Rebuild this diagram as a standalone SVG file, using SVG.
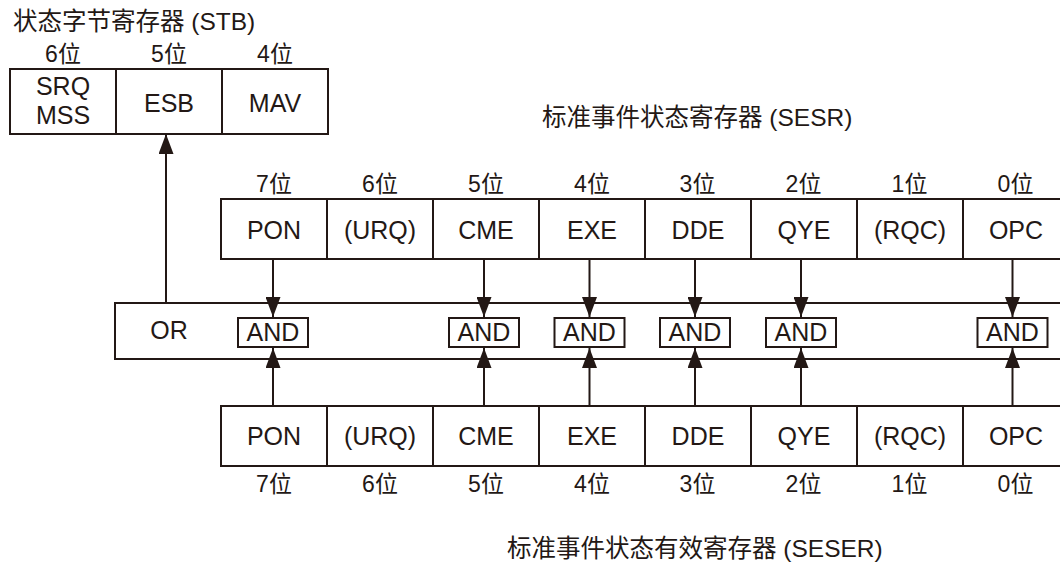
<svg xmlns="http://www.w3.org/2000/svg" width="1060" height="566" viewBox="0 0 1060 566">
<defs>
<style>
text{font-family:"Liberation Sans","Noto Sans CJK SC",sans-serif;fill:#231815;}
.t{font-size:24.5px;}
.c{font-size:25px;text-anchor:middle;}
.b{font-size:23px;text-anchor:middle;}
.box{fill:#fff;stroke:#231815;stroke-width:2;}
.ln{stroke:#231815;stroke-width:2;fill:none;}
.con{stroke:#231815;stroke-width:2;fill:none;}
</style>
<marker id="ah" viewBox="0 0 20 15" refX="20" refY="7.5" markerWidth="20" markerHeight="15" markerUnits="userSpaceOnUse" orient="auto">
<path d="M0,0 L20,7.5 L0,15 Z" fill="#231815"/>
</marker>
</defs>
<rect width="1060" height="566" fill="#fff"/>

<g id="stb">
<text class="t" x="13" y="30">状态字节寄存器 (STB)</text>
<text class="b" x="63" y="62">6位</text>
<text class="b" x="169" y="62">5位</text>
<text class="b" x="275" y="62">4位</text>
<rect class="box" x="10" y="69" width="318" height="65"/>
<line class="ln" x1="116" y1="69" x2="116" y2="134"/>
<line class="ln" x1="222" y1="69" x2="222" y2="134"/>
<text class="c" x="63" y="95">SRQ</text>
<text class="c" x="63" y="124">MSS</text>
<text class="c" x="169" y="112">ESB</text>
<text class="c" x="275" y="112">MAV</text>
</g>

<g id="sesr">
<text class="t" x="542" y="126">标准事件状态寄存器 (SESR)</text>
<text class="b" x="274" y="192">7位</text>
<text class="b" x="380" y="192">6位</text>
<text class="b" x="486" y="192">5位</text>
<text class="b" x="592" y="192">4位</text>
<text class="b" x="697.5" y="192">3位</text>
<text class="b" x="803.5" y="192">2位</text>
<text class="b" x="909.5" y="192">1位</text>
<text class="b" x="1015.5" y="192">0位</text>
<rect class="box" x="221" y="199" width="848" height="60"/>
<line class="ln" x1="327" y1="199" x2="327" y2="259"/>
<line class="ln" x1="433" y1="199" x2="433" y2="259"/>
<line class="ln" x1="539" y1="199" x2="539" y2="259"/>
<line class="ln" x1="645" y1="199" x2="645" y2="259"/>
<line class="ln" x1="751" y1="199" x2="751" y2="259"/>
<line class="ln" x1="857" y1="199" x2="857" y2="259"/>
<line class="ln" x1="963" y1="199" x2="963" y2="259"/>
<text class="c" x="274" y="239">PON</text>
<text class="c" x="380" y="239">(URQ)</text>
<text class="c" x="486" y="239">CME</text>
<text class="c" x="592" y="239">EXE</text>
<text class="c" x="698" y="239">DDE</text>
<text class="c" x="804" y="239">QYE</text>
<text class="c" x="910" y="239">(RQC)</text>
<text class="c" x="1016" y="239">OPC</text>
</g>

<g id="or">
<rect class="box" x="115" y="303" width="960" height="56"/>
<text class="c" x="169" y="339">OR</text>
</g>

<g id="and7"><rect class="box" x="238" y="318" width="70" height="29"/><text class="c" x="273" y="341">AND</text></g>
<g id="and5"><rect class="box" x="449" y="318" width="70" height="29"/><text class="c" x="484" y="341">AND</text></g>
<g id="and4"><rect class="box" x="554.5" y="318" width="70" height="29"/><text class="c" x="589.5" y="341">AND</text></g>
<g id="and3"><rect class="box" x="660" y="318" width="70" height="29"/><text class="c" x="695" y="341">AND</text></g>
<g id="and2"><rect class="box" x="766" y="318" width="70" height="29"/><text class="c" x="801" y="341">AND</text></g>
<g id="and0"><rect class="box" x="977.5" y="318" width="70" height="29"/><text class="c" x="1012.5" y="341">AND</text></g>

<g id="seser">
<rect class="box" x="221" y="406" width="848" height="60"/>
<line class="ln" x1="327" y1="406" x2="327" y2="466"/>
<line class="ln" x1="433" y1="406" x2="433" y2="466"/>
<line class="ln" x1="539" y1="406" x2="539" y2="466"/>
<line class="ln" x1="645" y1="406" x2="645" y2="466"/>
<line class="ln" x1="751" y1="406" x2="751" y2="466"/>
<line class="ln" x1="857" y1="406" x2="857" y2="466"/>
<line class="ln" x1="963" y1="406" x2="963" y2="466"/>
<text class="c" x="274" y="445">PON</text>
<text class="c" x="380" y="445">(URQ)</text>
<text class="c" x="486" y="445">CME</text>
<text class="c" x="592" y="445">EXE</text>
<text class="c" x="698" y="445">DDE</text>
<text class="c" x="804" y="445">QYE</text>
<text class="c" x="910" y="445">(RQC)</text>
<text class="c" x="1016" y="445">OPC</text>
<text class="b" x="274" y="492">7位</text>
<text class="b" x="380" y="492">6位</text>
<text class="b" x="486" y="492">5位</text>
<text class="b" x="592" y="492">4位</text>
<text class="b" x="697.5" y="492">3位</text>
<text class="b" x="803.5" y="492">2位</text>
<text class="b" x="909.5" y="492">1位</text>
<text class="b" x="1015.5" y="492">0位</text>
<text class="t" x="507" y="557">标准事件状态有效寄存器 (SESER)</text>
</g>

<g id="connectors">
<line class="con" x1="166" y1="303" x2="166" y2="134" marker-end="url(#ah)"/>
<line class="con" x1="273" y1="259" x2="273" y2="317" marker-end="url(#ah)"/>
<line class="con" x1="484" y1="259" x2="484" y2="317" marker-end="url(#ah)"/>
<line class="con" x1="589.5" y1="259" x2="589.5" y2="317" marker-end="url(#ah)"/>
<line class="con" x1="695" y1="259" x2="695" y2="317" marker-end="url(#ah)"/>
<line class="con" x1="801" y1="259" x2="801" y2="317" marker-end="url(#ah)"/>
<line class="con" x1="1012.5" y1="259" x2="1012.5" y2="317" marker-end="url(#ah)"/>
<line class="con" x1="273" y1="406" x2="273" y2="348" marker-end="url(#ah)"/>
<line class="con" x1="484" y1="406" x2="484" y2="348" marker-end="url(#ah)"/>
<line class="con" x1="589.5" y1="406" x2="589.5" y2="348" marker-end="url(#ah)"/>
<line class="con" x1="695" y1="406" x2="695" y2="348" marker-end="url(#ah)"/>
<line class="con" x1="801" y1="406" x2="801" y2="348" marker-end="url(#ah)"/>
<line class="con" x1="1012.5" y1="406" x2="1012.5" y2="348" marker-end="url(#ah)"/>
</g>
</svg>
